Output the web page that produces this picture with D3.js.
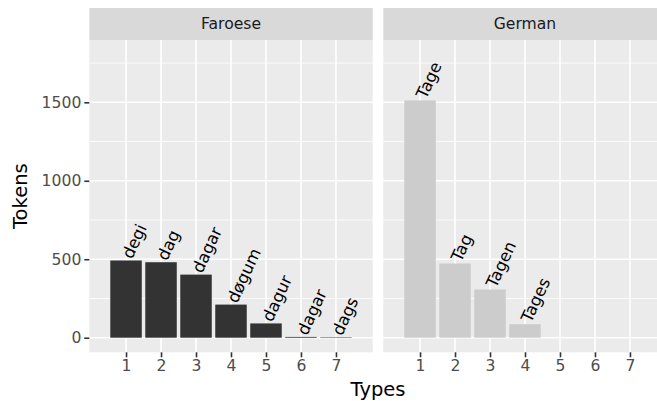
<!DOCTYPE html>
<html>
<head>
<meta charset="utf-8">
<script src="https://cdn.jsdelivr.net/npm/d3@7"></script>
<style>
  html, body { margin: 0; padding: 0; background: #fff; }
  svg { display: block; font-family: "DejaVu Sans", sans-serif; }
</style>
</head>
<body>
<svg id="chart" width="657" height="401"></svg>
<script>
const types = [1, 2, 3, 4, 5, 6, 7];
const panelNames = ["Faroese", "German"];
const faroeseForms = ["degi", "dag", "dagar", "døgum", "dagur", "dagar", "dags"];
const faroeseTokens = [492, 481, 402, 211, 91, 5, 3];
const germanForms = ["Tage", "Tag", "Tagen", "Tages"];
const germanTokens = [1512, 473, 307, 86];
const yTicks = [0, 500, 1000, 1500];
const yMinor = [250, 750, 1250, 1750];

const panelData = [
  { name: panelNames[0], fill: "#333333",
    rows: faroeseForms.map((f, i) => ({ type: types[i], form: f, tokens: faroeseTokens[i] })) },
  { name: panelNames[1], fill: "#CCCCCC",
    rows: germanForms.map((f, i) => ({ type: types[i], form: f, tokens: germanTokens[i] })) }
];

const svg = d3.select("#chart");
const panelTop = 40, panelBottom = 352.3, stripTop = 8;
const panelLefts = [89.3, 383.3];
const panelW = 283.4;

const y = d3.scaleLinear().domain([-93, 1897]).range([panelBottom, panelTop]);

panelData.forEach((p, pi) => {
  const x0 = panelLefts[pi];
  const x = d3.scalePoint().domain(types).range([x0, x0 + panelW]).padding(1.05);
  const bw = x.step() * 0.9;
  const g = svg.append("g");

  g.append("rect").attr("x", x0).attr("y", stripTop).attr("width", panelW)
    .attr("height", panelTop - stripTop).attr("fill", "#D9D9D9");
  g.append("text").attr("x", x0 + panelW / 2).attr("y", (stripTop + panelTop) / 2)
    .attr("text-anchor", "middle").attr("dominant-baseline", "central")
    .attr("font-size", "15.6px").attr("fill", "#1A1A1A").text(p.name);

  g.append("rect").attr("x", x0).attr("y", panelTop).attr("width", panelW)
    .attr("height", panelBottom - panelTop).attr("fill", "#EBEBEB");

  g.selectAll(".minor").data(yMinor).join("line")
    .attr("x1", x0).attr("x2", x0 + panelW)
    .attr("y1", d => y(d)).attr("y2", d => y(d))
    .attr("stroke", "#fff").attr("stroke-width", 0.8);
  g.selectAll(".major").data(yTicks).join("line")
    .attr("x1", x0).attr("x2", x0 + panelW)
    .attr("y1", d => y(d)).attr("y2", d => y(d))
    .attr("stroke", "#fff").attr("stroke-width", 1.6);
  g.selectAll(".vmajor").data(types).join("line")
    .attr("x1", d => x(d)).attr("x2", d => x(d))
    .attr("y1", panelTop).attr("y2", panelBottom)
    .attr("stroke", "#fff").attr("stroke-width", 1.6);

  g.selectAll(".bar").data(p.rows).join("rect")
    .attr("x", d => x(d.type) - bw / 2)
    .attr("width", bw)
    .attr("y", d => y(d.tokens))
    .attr("height", d => y(0) - y(d.tokens))
    .attr("fill", p.fill);

  g.selectAll(".lab").data(p.rows).join("text")
    .attr("transform", d => `translate(${x(d.type) + 1},${y(d.tokens) - 3}) rotate(-65)`)
    .attr("text-anchor", "start").attr("dominant-baseline", "central")
    .attr("font-size", "16.5px").attr("fill", "#000").text(d => d.form);

  const xa = g.append("g").attr("transform", `translate(0,${panelBottom})`)
    .call(d3.axisBottom(x).tickSize(5).tickPadding(3));
  xa.select(".domain").remove();
  xa.selectAll(".tick line").attr("stroke", "#333333").attr("stroke-width", 1.6);
  xa.selectAll(".tick text").attr("font-size", "15.6px").attr("fill", "#4D4D4D")
    .attr("font-family", "DejaVu Sans, sans-serif");
});

const ya = svg.append("g").attr("transform", `translate(${panelLefts[0]},0)`)
  .call(d3.axisLeft(y).tickValues(yTicks).tickFormat(d3.format("d")).tickSize(5).tickPadding(3));
ya.select(".domain").remove();
ya.selectAll(".tick line").attr("stroke", "#333333").attr("stroke-width", 1.6);
ya.selectAll(".tick text").attr("font-size", "15.6px").attr("fill", "#4D4D4D")
  .attr("font-family", "DejaVu Sans, sans-serif");

svg.append("text").attr("x", (panelLefts[0] + panelLefts[1] + panelW) / 2).attr("y", 396)
  .attr("text-anchor", "middle").attr("font-size", "19.5px").attr("fill", "#000").text("Types");
svg.append("text").attr("transform", `translate(27,${(panelTop + panelBottom) / 2}) rotate(-90)`)
  .attr("text-anchor", "middle").attr("font-size", "19.5px").attr("fill", "#000").text("Tokens");
</script>
</body>
</html>
